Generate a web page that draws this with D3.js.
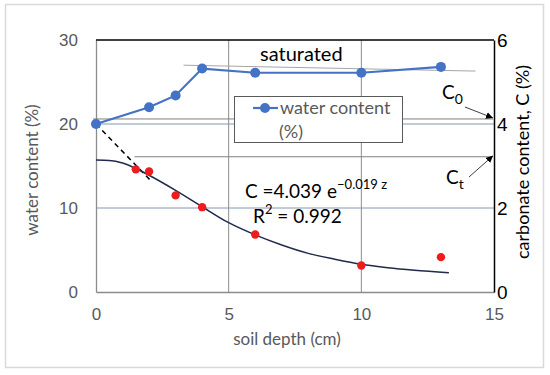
<!DOCTYPE html>
<html>
<head>
<meta charset="utf-8">
<script src="https://cdn.jsdelivr.net/npm/d3@7"></script>
<style>
  body { margin: 0; background: #fff; }
  svg { font-family: Lato, "Open Sans", sans-serif; }
</style>
</head>
<body>
<svg id="chart" width="550" height="375"></svg>
<script>
// water content (left axis, %)
var waterDepth = [0, 2, 3, 4, 6, 10, 13];
var waterValue = [20, 22, 23.4, 26.6, 26.1, 26.1, 26.8];

// carbonate content (right axis, %)
var carbDepth = [1.5, 2, 3, 4, 6, 10, 13];
var carbValue = [2.92, 2.87, 2.3, 2.02, 1.37, 0.63, 0.83];

// fitted curve (right axis units)
var fitDepth = [0, 0.5, 1, 1.5, 2, 3, 4, 5, 6, 7, 8, 9, 10, 11, 12, 13.3];
var fitValue = [3.14, 3.13, 3.07, 2.94, 2.78, 2.42, 2.03, 1.65, 1.36, 1.12, 0.92, 0.78, 0.66, 0.58, 0.52, 0.46];

// annotation lines
var dashDepth = [0, 2.05];
var dashValue = [20, 13.3];
var satDepth = [3.3, 14.3];
var satValue = [27.0, 26.3];
var c0Value = 4.12, ctValue = 3.22;

var xTicks = [0, 5, 10, 15];
var yLeftTicks = [0, 10, 20, 30];
var yRightTicks = [0, 2, 4, 6];

var svg = d3.select("#chart");
var pLeft = 96, pRight = 494, pTop = 40, pBottom = 292;

var x = d3.scaleLinear().domain([0, 15]).range([pLeft, pRight]);
var yL = d3.scaleLinear().domain([0, 30]).range([pBottom, pTop]);
var yR = d3.scaleLinear().domain([0, 6]).range([pBottom, pTop]);

// outer frame
svg.append("rect").attr("x", 5.5).attr("y", 4.5).attr("width", 538).attr("height", 363)
  .attr("fill", "#fff").attr("stroke", "#d9d9d9").attr("stroke-width", 1.5);

// arrow marker
svg.append("defs").append("marker").attr("id", "arr")
  .attr("viewBox", "0 0 10 10").attr("refX", 10).attr("refY", 5)
  .attr("markerWidth", 7).attr("markerHeight", 7).attr("orient", "auto")
  .append("path").attr("d", "M0,0 L10,5 L0,10 z").attr("fill", "#000");

// gridlines
svg.append("g").selectAll("line").data([5, 10]).join("line")
  .attr("x1", function(d) { return x(d); }).attr("x2", function(d) { return x(d); })
  .attr("y1", pTop).attr("y2", pBottom).attr("stroke", "#8c8c8c").attr("stroke-width", 1);
svg.append("g").selectAll("line").data([10, 20]).join("line")
  .attr("x1", pLeft).attr("x2", pRight)
  .attr("y1", function(d) { return yL(d); }).attr("y2", function(d) { return yL(d); })
  .attr("stroke", "#8497b0").attr("stroke-width", 1);

// axes
var xAxis = svg.append("g").attr("transform", "translate(0," + pBottom + ")")
  .call(d3.axisBottom(x).tickValues(xTicks).tickSize(0).tickPadding(16));
xAxis.select(".domain").attr("stroke", "#8c8c8c").attr("stroke-width", 1.3);
xAxis.selectAll("text").attr("fill", "#595959").attr("font-size", 17).attr("font-family", null);

var yAxisL = svg.append("g").attr("transform", "translate(" + pLeft + ",0)")
  .call(d3.axisLeft(yL).tickValues(yLeftTicks).tickSize(0).tickPadding(18));
yAxisL.select(".domain").attr("stroke", "#8c8c8c").attr("stroke-width", 1.3);
yAxisL.selectAll("text").attr("fill", "#595959").attr("font-size", 17).attr("font-family", null);

var yAxisR = svg.append("g").attr("transform", "translate(" + pRight + ",0)")
  .call(d3.axisRight(yR).tickValues(yRightTicks).tickFormat(d3.format("d")).tickSize(0).tickPadding(3));
yAxisR.select(".domain").attr("stroke", "#000").attr("stroke-width", 1.5);
yAxisR.selectAll("text").attr("fill", "#000").attr("font-size", 19).attr("font-family", null);

svg.append("line").attr("x1", pLeft).attr("x2", pRight).attr("y1", pTop).attr("y2", pTop)
  .attr("stroke", "#000").attr("stroke-width", 1.5);

// axis titles
svg.append("text").attr("x", 287).attr("y", 345).attr("text-anchor", "middle")
  .attr("font-size", 17).attr("fill", "#595959").text("soil depth (cm)");
svg.append("text").attr("transform", "translate(38,170) rotate(-90)").attr("text-anchor", "middle")
  .attr("font-size", 17).attr("fill", "#595959").text("water content (%)");
svg.append("text").attr("transform", "translate(529,162) rotate(-90)").attr("text-anchor", "middle")
  .attr("font-size", 18).attr("fill", "#000").text("carbonate content, C  (%)");

// annotation lines
svg.append("line").attr("x1", 93).attr("x2", pRight - 1).attr("y1", yR(c0Value)).attr("y2", yR(c0Value))
  .attr("stroke", "#7f7f7f").attr("stroke-width", 1);
svg.append("line").attr("x1", x(1.45)).attr("x2", pRight - 1).attr("y1", yR(ctValue)).attr("y2", yR(ctValue))
  .attr("stroke", "#7f7f7f").attr("stroke-width", 1);
svg.append("line").attr("x1", x(satDepth[0])).attr("x2", x(satDepth[1]))
  .attr("y1", yL(satValue[0])).attr("y2", yL(satValue[1]))
  .attr("stroke", "#a6a6a6").attr("stroke-width", 1);

svg.append("line").attr("x1", 465).attr("y1", 107).attr("x2", pRight - 1).attr("y2", yR(c0Value) - 1)
  .attr("stroke", "#404040").attr("stroke-width", 1).attr("marker-end", "url(#arr)");
svg.append("line").attr("x1", 469).attr("y1", 177).attr("x2", pRight - 1).attr("y2", yR(ctValue) - 1)
  .attr("stroke", "#404040").attr("stroke-width", 1).attr("marker-end", "url(#arr)");

var c0 = svg.append("text").attr("x", 442).attr("y", 99).attr("font-size", 19).attr("fill", "#000");
c0.append("tspan").text("C");
c0.append("tspan").attr("font-size", 14).attr("dy", 5).text("0");
var ct = svg.append("text").attr("x", 446).attr("y", 184).attr("font-size", 19).attr("fill", "#000");
ct.append("tspan").text("C");
ct.append("tspan").attr("font-size", 14).attr("dy", 5).text("t");

// dashed line
var dashLine = d3.line().x(function(d) { return x(d[0]); }).y(function(d) { return yL(d[1]); });
svg.append("path").attr("d", dashLine(d3.zip(dashDepth, dashValue)))
  .attr("fill", "none").attr("stroke", "#000").attr("stroke-width", 1.5).attr("stroke-dasharray", "5,4");

// fitted curve
var fitLine = d3.line().curve(d3.curveMonotoneX)
  .x(function(d) { return x(d[0]); }).y(function(d) { return yR(d[1]); });
svg.append("path").attr("d", fitLine(d3.zip(fitDepth, fitValue)))
  .attr("fill", "none").attr("stroke", "#1f2a4d").attr("stroke-width", 1.5);

// water content series
var waterLine = d3.line().x(function(d) { return x(d[0]); }).y(function(d) { return yL(d[1]); });
var water = d3.zip(waterDepth, waterValue);
svg.append("path").attr("d", waterLine(water))
  .attr("fill", "none").attr("stroke", "#4472c4").attr("stroke-width", 2.2);
svg.append("g").selectAll("circle").data(water).join("circle")
  .attr("cx", function(d) { return x(d[0]); }).attr("cy", function(d) { return yL(d[1]); })
  .attr("r", 5).attr("fill", "#4472c4");

// carbonate points
svg.append("g").selectAll("circle").data(d3.zip(carbDepth, carbValue)).join("circle")
  .attr("cx", function(d) { return x(d[0]); }).attr("cy", function(d) { return yR(d[1]); })
  .attr("r", 4.2).attr("fill", "#ee1c1c");

// labels
svg.append("text").attr("x", 260).attr("y", 61).attr("font-size", 20).attr("fill", "#000").text("saturated");

var eq = svg.append("text").attr("x", 245).attr("y", 198).attr("font-size", 19).attr("fill", "#000");
eq.append("tspan").text("C =4.039 e");
eq.append("tspan").attr("font-size", 13).attr("dy", -9).text("\u22120.019 z");
var r2 = svg.append("text").attr("x", 253).attr("y", 223).attr("font-size", 19).attr("fill", "#000");
r2.append("tspan").text("R");
r2.append("tspan").attr("font-size", 13).attr("dy", -9).text("2");
r2.append("tspan").attr("dy", 9).text(" = 0.992");

// legend
var lg = svg.append("g");
lg.append("rect").attr("x", 234.5).attr("y", 96.5).attr("width", 168).attr("height", 46)
  .attr("fill", "#fff").attr("stroke", "#595959").attr("stroke-width", 1);
lg.append("line").attr("x1", 253).attr("x2", 278).attr("y1", 108).attr("y2", 108)
  .attr("stroke", "#4472c4").attr("stroke-width", 2.2);
lg.append("circle").attr("cx", 265).attr("cy", 108).attr("r", 5).attr("fill", "#4472c4");
lg.append("text").attr("x", 280).attr("y", 114).attr("font-size", 18).attr("fill", "#595959").text("water content");
lg.append("text").attr("x", 279).attr("y", 138).attr("font-size", 18).attr("fill", "#595959").text("(%)");
</script>
</body>
</html>
